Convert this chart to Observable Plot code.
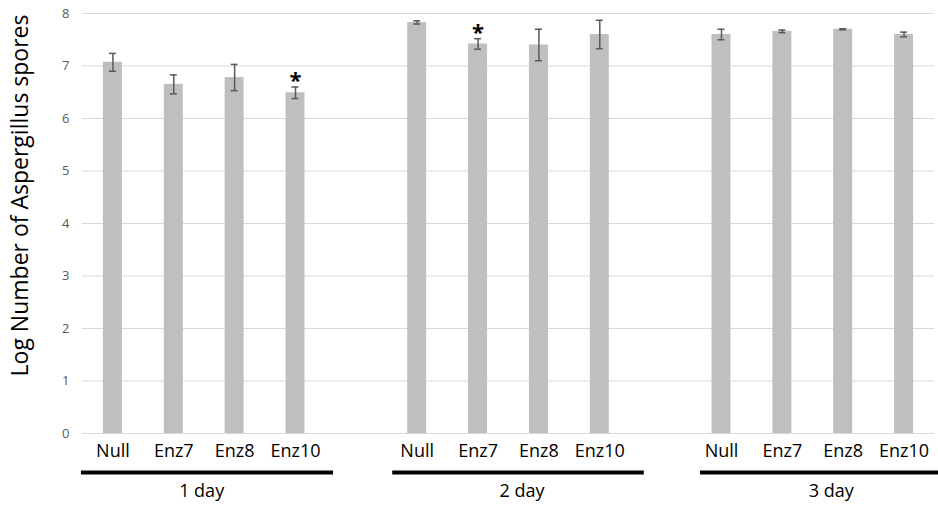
<!DOCTYPE html>
<html>
<head>
<meta charset="utf-8">
<script src="https://cdn.jsdelivr.net/npm/d3@7"></script>
<script src="https://cdn.jsdelivr.net/npm/@observablehq/plot@0.6"></script>
<style>
  html, body { margin: 0; padding: 0; background: #fff; }
  #chart svg { display: block; }
</style>
</head>
<body>
<div id="chart"></div>
<script>
// ---- data ----
const days = ["1 day", "2 day", "3 day"];
const treatments = ["Null", "Enz7", "Enz8", "Enz10"];
const means1 = [7.07, 6.65, 6.78, 6.49];
const means2 = [7.83, 7.42, 7.40, 7.60];
const means3 = [7.60, 7.66, 7.70, 7.60];
const errs1 = [0.17, 0.18, 0.25, 0.11];
const errs2 = [0.03, 0.10, 0.30, 0.27];
const errs3 = [0.10, 0.025, 0.01, 0.045];
const sig1 = ["", "", "", "*"];
const sig2 = ["", "*", "", ""];
const sig3 = ["", "", "", ""];
const yTicks = [0, 1, 2, 3, 4, 5, 6, 7, 8];
const yLabel = "Log Number of Aspergillus spores";

// ---- table built from the arrays ----
const meansByDay = [means1, means2, means3];
const errsByDay = [errs1, errs2, errs3];
const sigByDay = [sig1, sig2, sig3];
const rows = [];
days.forEach((d, i) => treatments.forEach((t, j) => rows.push({
  day: d, treatment: t, key: d + "|" + t,
  mean: meansByDay[i][j], err: errsByDay[i][j], sig: sigByDay[i][j]
})));
const domain = [];
days.forEach((d, i) => {
  treatments.forEach(t => domain.push(d + "|" + t));
  if (i < days.length - 1) domain.push("gap" + i);
});
const keyOf = (d, t) => d + "|" + t;

const font = "'Open Sans', sans-serif";
const lineInsets = [[-22, -28.5], [-15, -35], [-11.5, -40]];
const labelDx = [-33, -17, -12];

const chart = Plot.plot({
  width: 938,
  height: 505,
  marginLeft: 82,
  marginRight: 4,
  marginTop: 13,
  marginBottom: 72,
  style: {fontFamily: font, background: "#fff", overflow: "visible"},
  x: {type: "band", domain, paddingInner: 0.688, paddingOuter: 0.344, round: false, axis: null},
  y: {domain: [0, 8], axis: null},
  marks: [
    Plot.gridY(yTicks, {stroke: "#d9d9d9", strokeOpacity: 1, strokeWidth: 1}),
    Plot.axisY(yTicks, {tickSize: 0, tickPadding: 13, fontSize: 13, fill: "#595959", label: null, tickFormat: d3.format("d"), fontFamily: font}),
    Plot.barY(rows, {x: "key", y: "mean", fill: "#bfbfbf"}),
    Plot.ruleX(rows, {x: "key", y1: d => d.mean - d.err, y2: d => d.mean + d.err, stroke: "#595959", strokeWidth: 1.5}),
    Plot.tickY(rows, {x: "key", y: d => d.mean + d.err, stroke: "#595959", strokeWidth: 1.5, insetLeft: 6, insetRight: 6}),
    Plot.tickY(rows, {x: "key", y: d => d.mean - d.err, stroke: "#595959", strokeWidth: 1.5, insetLeft: 6, insetRight: 6}),
    Plot.text(rows.filter(d => d.sig), {x: "key", y: d => d.mean + d.err, text: "sig", dy: -6, fontSize: 22, fontWeight: "bold", fill: "#000", fontFamily: font}),
    Plot.axisX(rows.map(d => d.key), {tickSize: 0, tickPadding: 11, fontSize: 18, fill: "#000", label: null, tickFormat: k => k.split("|")[1], fontFamily: font}),
    ...days.map((d, i) => Plot.ruleY([0], {
      x1: () => keyOf(d, treatments[0]), x2: () => keyOf(d, treatments[treatments.length - 1]),
      dy: 39, stroke: "#000", strokeWidth: 4,
      insetLeft: lineInsets[i][0], insetRight: lineInsets[i][1]
    })),
    ...days.map((d, i) => Plot.text([d], {
      x: () => keyOf(d, treatments[2]), y: () => 0, text: t => t,
      dy: 58, dx: labelDx[i], fontSize: 18, fill: "#000", fontFamily: font
    })),
    Plot.text([yLabel], {frameAnchor: "left", textAnchor: "middle", text: t => t, rotate: -90, dx: -62, dy: -28, fontSize: 23, fill: "#000", fontFamily: font})
  ]
});
document.getElementById("chart").append(chart);
</script>
</body>
</html>
